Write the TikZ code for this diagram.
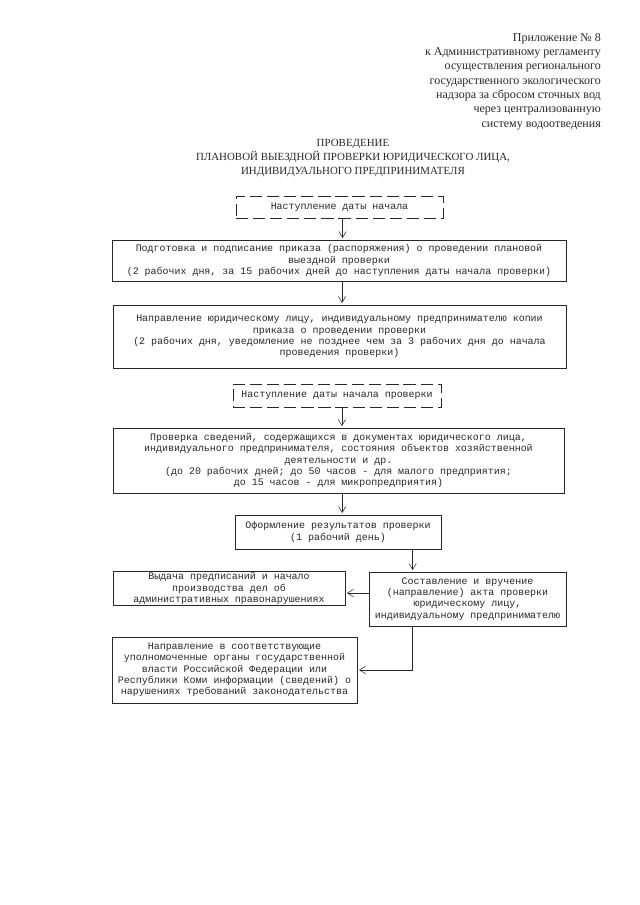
\documentclass[tikz,border=0pt]{standalone}
\usepackage{fontspec}
\setmainfont{Liberation Serif}
\newfontfamily\boxfont{Liberation Mono}
\usepackage{xcolor}
\usetikzlibrary{arrows.meta, positioning, calc}
\definecolor{scanink}{RGB}{40, 40, 40}

\begin{document}
\begin{tikzpicture}[
  x=0.328125mm, y=-0.328125mm,
  every node/.style={font=\boxfont\fontsize{9.3}{10.6}\selectfont, text=scanink},
  box/.style={draw=scanink, line width=0.6pt, align=center, inner sep=1pt},
  dbox/.style={box, dash pattern=on 4mm off 1.6mm},
  arrow/.style={-{Straight Barb[length=2mm, width=2.4mm]}, line width=0.5pt, draw=scanink, shorten >=1.5pt},
  head/.style={font=\fontsize{11.2}{13.4}\selectfont, inner sep=0pt}
]
  \useasboundingbox (0,0) rectangle (640,905);

  % Шапка
  \node[head, align=right, anchor=north east] (app) at (601,33) {Приложение № 8\\к Административному регламенту\\осуществления регионального\\государственного экологического\\надзора за сбросом сточных вод\\через централизованную\\систему водоотведения};
  \node[head, font=\fontsize{10.2}{13.2}\selectfont, align=center, anchor=north] (title) at (353,139) {ПРОВЕДЕНИЕ\\ПЛАНОВОЙ ВЫЕЗДНОЙ ПРОВЕРКИ ЮРИДИЧЕСКОГО ЛИЦА,\\ИНДИВИДУАЛЬНОГО ПРЕДПРИНИМАТЕЛЯ};

  % Блоки
  \node[dbox, minimum width=67.9mm, minimum height=7.2mm] (start) at (339.5,207) {Наступление даты начала};
  \node[box, minimum width=149mm, minimum height=13.5mm] (order) at (339,260.5) {Подготовка и подписание приказа (распоряжения) о проведении плановой\\выездной проверки\\(2 рабочих дня, за 15 рабочих дней до наступления даты начала проверки)};
  \node[box, minimum width=148.6mm, minimum height=20.7mm] (notice) at (339.5,336.5) {Направление юридическому лицу, индивидуальному предпринимателю копии\\приказа о проведении проверки\\(2 рабочих дня, уведомление не позднее чем за 3 рабочих дня до начала\\проведения проверки)};
  \node[dbox, minimum width=68.2mm, minimum height=7.5mm] (begin) at (337,395.5) {Наступление даты начала проверки};
  \node[box, minimum width=148mm, minimum height=21.3mm] (audit) at (338.5,460.5) {Проверка сведений, содержащихся в документах юридического лица,\\индивидуального предпринимателя, состояния объектов хозяйственной\\деятельности и др.\\(до 20 рабочих дней; до 50 часов - для малого предприятия;\\до 15 часов - для микропредприятия)};
  \node[box, minimum width=67.6mm, minimum height=11.2mm] (result) at (338,532) {Оформление результатов проверки\\(1 рабочий день)};
  \node[box, minimum width=64.6mm, minimum height=17.7mm] (act) at (467.5,599) {Составление и вручение\\(направление) акта проверки\\юридическому лицу,\\индивидуальному предпринимателю};
  \node[box, minimum width=76.1mm, minimum height=10.8mm] (orders) at (229,588.5) {Выдача предписаний и начало\\производства дел об\\административных правонарушениях};
  \node[box, minimum width=80.4mm, minimum height=21.6mm] (report) at (234.5,670) {Направление в соответствующие\\уполномоченные органы государственной\\власти Российской Федерации или\\Республики Коми информации (сведений) о\\нарушениях требований законодательства};

  \coordinate (split) at ([xshift=14.4mm]act.north west);

  \draw[arrow] ([xshift=1mm]start.south) -- ([xshift=1mm]start.south |- order.north);
  \draw[arrow] ([xshift=1mm]order.south) -- ([xshift=1mm]order.south |- notice.north);
  \draw[arrow] ([xshift=1.6mm]begin.south) -- ([xshift=1.6mm]begin.south |- audit.north);
  \draw[arrow] ([xshift=1.2mm]audit.south) -- ([xshift=1.2mm]audit.south |- result.north);
  \draw[arrow] (result.south -| split) -- (split);
  \draw[arrow] ([yshift=-1.5mm]orders.east -| act.west) -- ([yshift=-1.5mm]orders.east);
  \draw[arrow] (act.south -| split) |- (report.east);

\end{tikzpicture}
\end{document}
